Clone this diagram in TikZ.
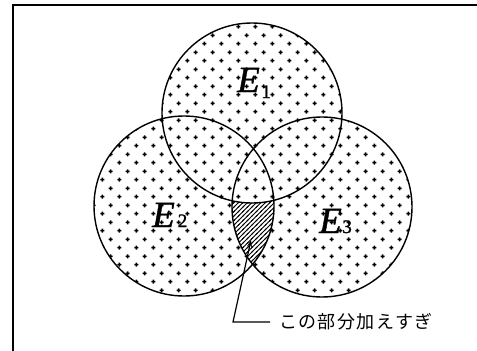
\documentclass[tikz,border=0pt]{standalone}
\usepackage{fontspec}
\setmainfont{Liberation Serif}
\newfontface\labE{Liberation Serif Italic}[FakeBold=1.2]
\newfontface\labsub{Liberation Serif}[FakeBold=1.5]
\newfontfamily\jpfont{Noto Sans CJK JP}
\usetikzlibrary{patterns,arrows.meta}
\pgfdeclarepatternformonly{plusdots}{\pgfpointorigin}{\pgfpoint{16.7pt}{16.7pt}}{\pgfpoint{16.7pt}{16.7pt}}{%
  \pgfsetlinewidth{1.6pt}%
  \pgfpathmoveto{\pgfpoint{0.4pt}{2.4pt}}\pgfpathlineto{\pgfpoint{4.4pt}{2.4pt}}%
  \pgfpathmoveto{\pgfpoint{2.4pt}{0.4pt}}\pgfpathlineto{\pgfpoint{2.4pt}{4.4pt}}%
  \pgfpathmoveto{\pgfpoint{8.75pt}{10.75pt}}\pgfpathlineto{\pgfpoint{12.75pt}{10.75pt}}%
  \pgfpathmoveto{\pgfpoint{10.75pt}{8.75pt}}\pgfpathlineto{\pgfpoint{10.75pt}{12.75pt}}%
  \pgfusepath{stroke}%
}
\pgfdeclarepatternformonly{hatchlines}{\pgfpoint{-1pt}{-1pt}}{\pgfpoint{5.5pt}{5.5pt}}{\pgfpoint{4.5pt}{4.5pt}}{%
  \pgfsetlinewidth{0.9pt}%
  \pgfpathmoveto{\pgfpoint{-1pt}{-1pt}}\pgfpathlineto{\pgfpoint{5.5pt}{5.5pt}}%
  \pgfusepath{stroke}%
}
\newcommand\setlab[3]{{\labE\fontsize{37}{37}\selectfont E}\kern#2\raisebox{#3}{\labsub\fontsize{19}{19}\selectfont #1}}
\begin{document}
\begin{tikzpicture}[x=1pt,y=-1pt,
  circ/.style={line width=1.4pt},
  setname/.style={anchor=base west, inner sep=0pt},
  leader/.style={line width=1.2pt, -{Stealth[length=7pt,width=5pt]}}]
\useasboundingbox (0,0) rectangle (477,351);
\fill[white] (0,0) rectangle (477,351);
\draw[line width=2pt] (13,351) -- (13,5) -- (477,5);
% dotted fill of the union
\path[pattern=plusdots] (252,113) circle (90pt) (184,206) circle (90pt) (322,207) circle (90pt);
% hatched region: E2 and E3 outside E1
\begin{scope}
  \clip (184,206) circle (90pt);
  \clip (322,207) circle (90pt);
  \fill[white, even odd rule] (0,0) rectangle (477,351) (252,113) circle (90pt);
  \fill[pattern=hatchlines, even odd rule] (0,0) rectangle (477,351) (252,113) circle (90pt);
\end{scope}
\draw[circ] (252,113) circle (90pt);
\draw[circ] (184,206) circle (90pt);
\draw[circ] (322,207) circle (90pt);
\node[setname] (e1) at (237,92) {\setlab{1}{1.5pt}{-6pt}};
\node[setname] (e2) at (152,227) {\setlab{2}{3pt}{0pt}};
\node[setname] (e3) at (319,233) {\setlab{3}{0.5pt}{0pt}};
\node[anchor=west, inner xsep=9pt, inner ysep=0pt, font=\jpfont\fontsize{18}{18}\selectfont] (lbl) at (270,322)
  {こ\kern1.4ptの\kern1.4pt部\kern1.4pt分\kern1.4pt加\kern1.4ptえ\kern1.4ptす\kern1.4ptぎ};
\coordinate (bend) at (233,322);
\coordinate (tip) at (251,240);
\draw[leader] (lbl.west) -- (bend) -- (tip);
\end{tikzpicture}
\end{document}
